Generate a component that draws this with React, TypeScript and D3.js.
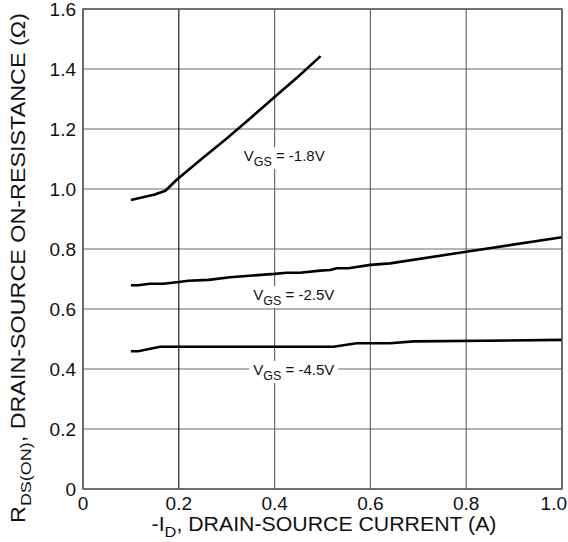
import { useEffect, useRef } from "react";
import * as d3 from "d3";

// RDS(ON) vs drain current, three gate-voltage curves.

const WIDTH = 568;
const HEIGHT = 542;
const MARGIN = { top: 9, right: 6, bottom: 53, left: 83 };
const FONT = "'Liberation Sans', Arial, sans-serif";

const xTicks = [0, 0.2, 0.4, 0.6, 0.8, 1.0];
const xTickLabels = ["0", "0.2", "0.4", "0.6", "0.8", "1.0"];
const yTicks = [0, 0.2, 0.4, 0.6, 0.8, 1.0, 1.2, 1.4, 1.6];
const yTickLabels = ["0", "0.2", "0.4", "0.6", "0.8", "1.0", "1.2", "1.4", "1.6"];

// -VGS = 1.8V
const id18 = [0.1, 0.15, 0.172, 0.195, 0.25, 0.3, 0.35, 0.4, 0.45, 0.496];
const r18 = [0.963, 0.982, 0.994, 1.03, 1.103, 1.168, 1.237, 1.307, 1.376, 1.443];

// -VGS = 2.5V
const id25 = [0.1, 0.115, 0.14, 0.168, 0.2, 0.22, 0.262, 0.307, 0.4, 0.425, 0.453, 0.495, 0.516, 0.53, 0.554, 0.6, 0.641, 0.8, 1.0];
const r25 = [0.679, 0.679, 0.684, 0.684, 0.69, 0.694, 0.697, 0.706, 0.717, 0.721, 0.721, 0.728, 0.73, 0.736, 0.736, 0.747, 0.752, 0.791, 0.839];

// -VGS = 4.5V
const id45 = [0.1, 0.115, 0.161, 0.523, 0.571, 0.641, 0.69, 1.0];
const r45 = [0.459, 0.459, 0.474, 0.474, 0.486, 0.486, 0.492, 0.497];

const curveLabels = ["-1.8V", "-2.5V", "-4.5V"];
const labelAt = [
  [0.42, 1.093],
  [0.44, 0.63],
  [0.44, 0.38],
];

export default function App() {
  const svgRef = useRef<SVGSVGElement>(null);

  useEffect(() => {
    const svg = d3.select(svgRef.current);
    svg.selectAll("*").remove();

    const innerW = WIDTH - MARGIN.left - MARGIN.right;
    const innerH = HEIGHT - MARGIN.top - MARGIN.bottom;

    const x = d3.scaleLinear().domain([0, 1]).range([0, innerW]);
    const y = d3.scaleLinear().domain([0, 1.6]).range([innerH, 0]);

    const g = svg
      .append("g")
      .attr("transform", `translate(${MARGIN.left},${MARGIN.top})`);

    // horizontal grid
    g.append("g")
      .selectAll("line")
      .data(yTicks)
      .join("line")
      .attr("x1", 0)
      .attr("x2", innerW)
      .attr("y1", (d) => y(d))
      .attr("y2", (d) => y(d))
      .attr("stroke", "#6a6a6a")
      .attr("stroke-width", 1.2);

    // vertical grid (0.2 line is darker in the original)
    g.append("g")
      .selectAll("line")
      .data(xTicks)
      .join("line")
      .attr("x1", (d) => x(d))
      .attr("x2", (d) => x(d))
      .attr("y1", 0)
      .attr("y2", innerH)
      .attr("stroke", (d) => (d === 0.2 ? "#1a1a1a" : "#6a6a6a"))
      .attr("stroke-width", 1.2);

    // tick labels
    g.append("g")
      .selectAll("text")
      .data(xTicks)
      .join("text")
      .attr("x", (d, i) => (i === xTicks.length - 1 ? x(d) + 5 : x(d)))
      .attr("y", innerH + 21)
      .attr("text-anchor", (_, i) => (i === xTicks.length - 1 ? "end" : "middle"))
      .attr("font-family", FONT)
      .attr("font-size", 19)
      .attr("fill", "#111")
      .text((_, i) => xTickLabels[i]);

    g.append("g")
      .selectAll("text")
      .data(yTicks)
      .join("text")
      .attr("x", -7)
      .attr("y", (d) => y(d) + 7)
      .attr("text-anchor", "end")
      .attr("font-family", FONT)
      .attr("font-size", 19)
      .attr("fill", "#111")
      .text((_, i) => yTickLabels[i]);

    // curves
    const line = d3
      .line<[number, number]>()
      .x((d) => x(d[0]))
      .y((d) => y(d[1]));

    const series: [number, number][][] = [
      id18.map((v, i) => [v, r18[i]]),
      id25.map((v, i) => [v, r25[i]]),
      id45.map((v, i) => [v, r45[i]]),
    ];

    g.append("g")
      .selectAll("path")
      .data(series)
      .join("path")
      .attr("d", (d) => line(d))
      .attr("fill", "none")
      .attr("stroke", "#000")
      .attr("stroke-width", 2.6)
      .attr("stroke-linejoin", "round");

    // curve labels with white backing
    curveLabels.forEach((lab, i) => {
      const [lx, ly] = labelAt[i];
      const t = g
        .append("text")
        .attr("x", x(lx))
        .attr("y", y(ly))
        .attr("text-anchor", "middle")
        .attr("font-family", FONT)
        .attr("font-size", 15)
        .attr("fill", "#111");
      t.append("tspan").text("V");
      t.append("tspan").attr("dy", 5).attr("font-size", 12.5).text("GS");
      t.append("tspan").attr("dy", -5).text(` = ${lab}`);
      const bb = (t.node() as SVGTextElement).getBBox();
      g.insert("rect", () => t.node())
        .attr("x", bb.x - 4)
        .attr("y", bb.y)
        .attr("width", bb.width + 8)
        .attr("height", bb.height)
        .attr("fill", "#fff");
    });

    // frame
    g.append("rect")
      .attr("width", innerW)
      .attr("height", innerH)
      .attr("fill", "none")
      .attr("stroke", "#555")
      .attr("stroke-width", 1.4);

    // axis titles (the original lettering is wider than Arial, so stretch to its length)
    const xt = svg
      .append("text")
      .attr("text-anchor", "middle")
      .attr("font-family", FONT)
      .attr("font-size", 19.5)
      .attr("fill", "#111");
    xt.append("tspan").text("-I");
    xt.append("tspan").attr("dy", 6).attr("font-size", 15).text("D");
    xt.append("tspan").attr("dy", -6).text(", DRAIN-SOURCE CURRENT (A)");
    const xw = (xt.node() as SVGTextElement).getBBox().width;
    xt.attr("transform", `translate(324,${HEIGHT - 11}) scale(${345 / xw},1)`);

    const yt = svg
      .append("text")
      .attr("text-anchor", "middle")
      .attr("font-family", FONT)
      .attr("font-size", 19.5)
      .attr("fill", "#111");
    yt.append("tspan").text("R");
    yt.append("tspan").attr("dy", 6).attr("font-size", 15).text("DS(ON)");
    yt.append("tspan").attr("dy", -6).text(", DRAIN-SOURCE ON-RESISTANCE (\u03A9)");
    const yw = (yt.node() as SVGTextElement).getBBox().width;
    yt.attr("transform", `translate(25,268) rotate(-90) scale(${510 / yw},1)`);
  }, []);

  return (
    <>
      <style>{"body{margin:0;background:#fff}"}</style>
      <svg ref={svgRef} width={WIDTH} height={HEIGHT} style={{ display: "block" }} />
    </>
  );
}
